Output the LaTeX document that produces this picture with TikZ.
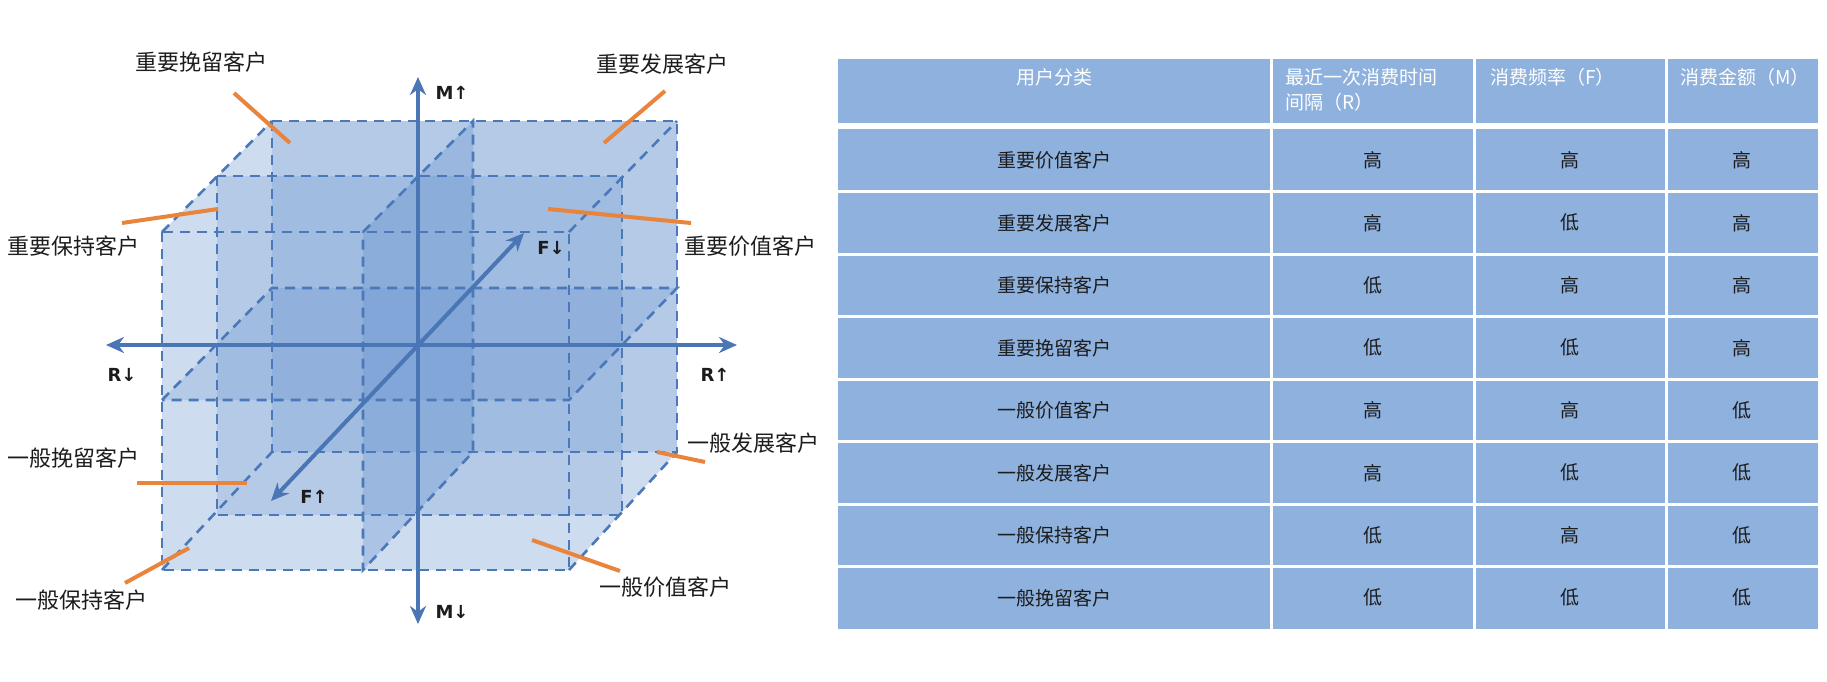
\documentclass[tikz,border=0pt]{standalone}
\usepackage{fontspec}
\setmainfont{Liberation Sans}
\newfontfamily\cjk{Noto Sans CJK SC}
\newfontfamily\axf{DejaVu Sans}
\usetikzlibrary{arrows.meta}
\definecolor{edge}{HTML}{4A78B8}
\definecolor{axis}{HTML}{4A76B6}
\definecolor{face}{HTML}{5B8BCB}
\definecolor{orng}{HTML}{E8843C}
\definecolor{cell}{HTML}{8EB1DD}
\definecolor{txt}{HTML}{1C1C1C}
\begin{document}
\begin{tikzpicture}[x=0.5pt,y=-0.5pt,
  cubeedge/.style={draw=edge,line width=1.3pt,dash pattern=on 5pt off 3.5pt},
  layer/.style={fill=face,fill opacity=0.22},
  axisline/.style={draw=axis,line width=2pt,{Stealth[length=9pt,width=8pt]}-{Stealth[length=9pt,width=8pt]}},
  callout/.style={draw=orng,line width=2pt},
  lab/.style={font=\cjk\fontsize{11pt}{13pt}\selectfont,text=txt,inner sep=0pt},
  axlab/.style={font=\axf\bfseries\fontsize{9pt}{11pt}\selectfont,text=txt,inner sep=0pt},
  celltxt/.style={font=\cjk\fontsize{9.5pt}{11pt}\selectfont,text=txt,inner sep=0pt},
  headtxt/.style={font=\cjk\fontsize{9.5pt}{12.5pt}\selectfont,text=white,inner sep=0pt,align=left}]
\useasboundingbox (0,0) rectangle (1827,681);
% ---- cube layers
\fill[layer,fill opacity=0.3] (162,232) -- (272,121) -- (677,121) -- (677,452) -- (569,570) -- (162,570) -- cycle;
\fill[layer] (272,121) rectangle (677,452);
\fill[layer] (217,176) rectangle (622,515);
\fill[layer] (162,400) -- (272,288) -- (677,288) -- (569,400) -- cycle;
\fill[layer,fill opacity=0.3] (363,232) -- (473,121) -- (473,452) -- (363,570) -- cycle;
% edges
\draw[cubeedge] (272,121) rectangle (677,452);
\draw[cubeedge] (217,176) rectangle (622,515);
\draw[cubeedge] (162,232) rectangle (569,570);
\draw[cubeedge] (162,232) -- (272,121) (569,232) -- (677,121) (569,570) -- (677,452) (162,570) -- (272,452);
\draw[cubeedge] (162,400) -- (272,288) -- (677,288) -- (569,400) -- cycle;
\draw[cubeedge] (363,232) -- (473,121) -- (473,452) -- (363,570) -- cycle;
% axes
\coordinate (Mt) at (418,77); \coordinate (Mb) at (418,624);
\coordinate (Rl) at (106,345); \coordinate (Rr) at (737,345);
\coordinate (Ff) at (271,501); \coordinate (Fb) at (524,233);
\draw[axisline] (Mb) -- (Mt);
\draw[axisline] (Rl) -- (Rr);
\draw[axisline] (Ff) -- (Fb);
\node[axlab] (mu) at (452,93) {M↑};
\node[axlab] (md) at (452,612) {M↓};
\node[axlab] (rd) at (122,375) {R↓};
\node[axlab] (ru) at (715,375) {R↑};
\node[axlab] (fd) at (551,248) {F↓};
\node[axlab] (fu) at (314,497) {F↑};
% labels
\node[lab] (l1) at (201,62) {重要挽留客户};
\node[lab] (l2) at (662,64) {重要发展客户};
\node[lab] (l3) at (74,246) {重要保持客户};
\node[lab] (l4) at (750,246) {重要价值客户};
\node[lab] (l5) at (74,458) {一般挽留客户};
\node[lab] (l6) at (753,443) {一般发展客户};
\node[lab] (l7) at (82,600) {一般保持客户};
\node[lab] (l8) at (665,587) {一般价值客户};
\coordinate (a1) at (234,93); \coordinate (b1) at (290,143);
\coordinate (a2) at (665,91); \coordinate (b2) at (604,143);
\coordinate (a3) at (122,223); \coordinate (b3) at (218,209);
\coordinate (a4) at (691,223); \coordinate (b4) at (548,209);
\coordinate (a5) at (137,483); \coordinate (b5) at (247,483);
\coordinate (a6) at (705,462); \coordinate (b6) at (657,452);
\coordinate (a7) at (125,583); \coordinate (b7) at (189,548);
\coordinate (a8) at (620,571); \coordinate (b8) at (532,540);
\foreach \i in {1,...,8} {\draw[callout] (a\i) -- (b\i);}
% ---- table
\fill[cell] (838,59) rectangle (1818,123);
\fill[cell] (838,129) rectangle (1818,629);
\foreach \x in {1271,1474,1666} {\draw[white,line width=1.5pt] (\x,59) -- (\x,629);}
\foreach \k in {1,...,7} {\draw[white,line width=1.5pt] (838,129+62.5*\k) -- (1818,129+62.5*\k);}
\node[headtxt,anchor=north] (h1) at (1054,68) {用户分类};
\node[headtxt,anchor=north west] (h2) at (1285,68) {最近一次消费时间\\间隔（R）};
\node[headtxt,anchor=north west] (h3) at (1490,68) {消费频率（F）};
\node[headtxt,anchor=north west] (h4) at (1680,68) {消费金额（M）};
\foreach \n/\a/\b/\c [count=\r from 0] in {
  重要价值客户/高/高/高, 重要发展客户/高/低/高, 重要保持客户/低/高/高, 重要挽留客户/低/低/高,
  一般价值客户/高/高/低, 一般发展客户/高/低/低, 一般保持客户/低/高/低, 一般挽留客户/低/低/低} {
  \node[celltxt] (c\r a) at (1054,{160.25+62.5*\r}) {\n};
  \node[celltxt] (c\r b) at (1373,{160.25+62.5*\r}) {\a};
  \node[celltxt] (c\r c) at (1570,{160.25+62.5*\r}) {\b};
  \node[celltxt] (c\r d) at (1742,{160.25+62.5*\r}) {\c};
}
\end{tikzpicture}
\end{document}
